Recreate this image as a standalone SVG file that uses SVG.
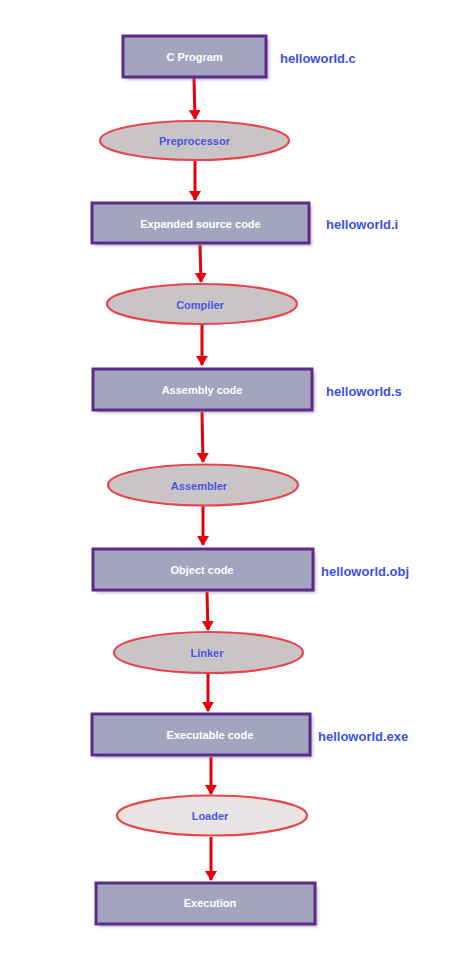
<svg xmlns="http://www.w3.org/2000/svg" width="474" height="963" viewBox="0 0 474 963">
<defs>
<style>
.box{fill:#a3a5bf;stroke:#5c2a8c;stroke-width:3}
.sh{fill:#8a8a8a;opacity:0.55;filter:url(#blur)}
.ell{fill:#c9c5c6;stroke:#e8454a;stroke-width:2.2}
.btx{font-family:"Liberation Sans",Arial,sans-serif;font-weight:bold;font-size:11px;fill:#ffffff;text-anchor:middle;dominant-baseline:central}
.etx{font-family:"Liberation Sans",Arial,sans-serif;font-weight:bold;font-size:11px;fill:#4a55e0;text-anchor:middle;dominant-baseline:central}
.lbl{font-family:"Liberation Sans",Arial,sans-serif;font-weight:bold;font-size:13px;fill:#3c50e6;dominant-baseline:central}
.arr{stroke:#e8000b;stroke-width:3;fill:none;marker-end:url(#ah)}
</style>
<filter id="blur" x="-10%" y="-20%" width="120%" height="140%"><feGaussianBlur stdDeviation="1.5"/></filter>
<marker id="ah" markerWidth="4" markerHeight="4" refX="3" refY="2" orient="auto" markerUnits="strokeWidth"><path d="M0,0 L3.3,2 L0,4 Z" fill="#e8000b"/></marker>
</defs>
<g id="connectors">
<line class="arr" x1="194" y1="78" x2="195" y2="119"/>
<line class="arr" x1="195" y1="161" x2="195" y2="200"/>
<line class="arr" x1="200" y1="245" x2="201" y2="282"/>
<line class="arr" x1="202" y1="325" x2="202" y2="365"/>
<line class="arr" x1="202" y1="412" x2="203" y2="462"/>
<line class="arr" x1="203" y1="506" x2="203" y2="545"/>
<line class="arr" x1="207" y1="592" x2="208" y2="630"/>
<line class="arr" x1="208" y1="674" x2="208" y2="711"/>
<line class="arr" x1="211" y1="757" x2="211" y2="794"/>
<line class="arr" x1="211" y1="837" x2="211" y2="880"/>
</g>
<g id="n-cprogram">
<rect class="sh" x="126" y="39" width="143" height="41"/>
<rect class="box" x="123" y="36" width="143" height="41"/>
<text class="btx" x="194.5" y="57">C Program</text>
<text class="lbl" x="280" y="58">helloworld.c</text>
</g>
<g id="n-preprocessor">
<ellipse class="ell" cx="194.5" cy="140.5" rx="94.5" ry="19.5"/>
<text class="etx" x="194.5" y="141">Preprocessor</text>
</g>
<g id="n-expanded">
<rect class="sh" x="95" y="206" width="217" height="40"/>
<rect class="box" x="92" y="203" width="217" height="40"/>
<text class="btx" x="200.5" y="223.5">Expanded source code</text>
<text class="lbl" x="326" y="224.5">helloworld.i</text>
</g>
<g id="n-compiler">
<ellipse class="ell" cx="202" cy="304" rx="95" ry="20"/>
<text class="etx" x="200" y="304.5">Compiler</text>
</g>
<g id="n-assembly">
<rect class="sh" x="96" y="372" width="219" height="41"/>
<rect class="box" x="93" y="369" width="219" height="41"/>
<text class="btx" x="202" y="390">Assembly code</text>
<text class="lbl" x="326" y="391">helloworld.s</text>
</g>
<g id="n-assembler">
<ellipse class="ell" cx="203" cy="485" rx="95" ry="20.5"/>
<text class="etx" x="199" y="485.5">Assembler</text>
</g>
<g id="n-object">
<rect class="sh" x="96" y="552" width="220" height="41"/>
<rect class="box" x="93" y="549" width="220" height="41"/>
<text class="btx" x="202" y="569.5">Object code</text>
<text class="lbl" x="321" y="571">helloworld.obj</text>
</g>
<g id="n-linker">
<ellipse class="ell" cx="208.5" cy="652.5" rx="94.5" ry="20.5"/>
<text class="etx" x="207" y="653">Linker</text>
</g>
<g id="n-executable">
<rect class="sh" x="95" y="717" width="218" height="41"/>
<rect class="box" x="92" y="714" width="218" height="41"/>
<text class="btx" x="210" y="735">Executable code</text>
<text class="lbl" x="318" y="736">helloworld.exe</text>
</g>
<g id="n-loader">
<ellipse class="ell" cx="212" cy="815.5" rx="95" ry="20" style="fill:#e8e4e4"/>
<text class="etx" x="210" y="815.5">Loader</text>
</g>
<g id="n-execution">
<rect class="sh" x="99" y="886" width="219" height="41"/>
<rect class="box" x="96" y="883" width="219" height="41"/>
<text class="btx" x="210" y="903">Execution</text>
</g>
</svg>
